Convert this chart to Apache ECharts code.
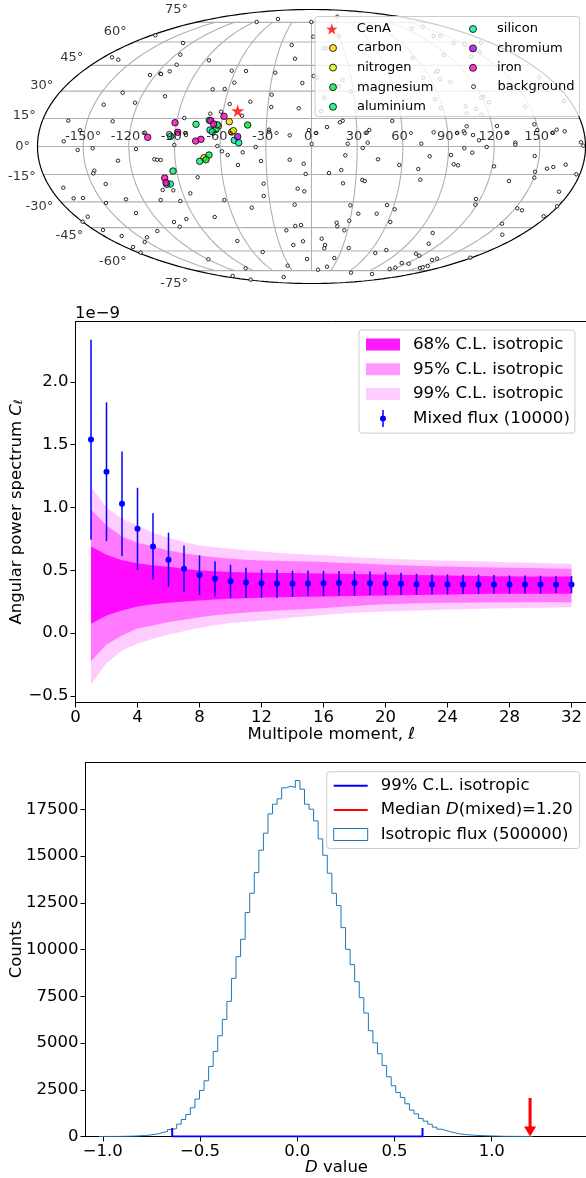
<!DOCTYPE html>
<html><head><meta charset="utf-8">
<style>html,body{margin:0;padding:0;background:#fff}#c{width:586px;height:1178px}</style>
<script src="https://cdn.jsdelivr.net/npm/echarts@6/dist/echarts.min.js"></script>
</head><body><div id="c"></div>
<script>
// ---------- SKY MAP (positions are Mollweide projected map units; half-axes 274 x 137) ----------
const lonTicks=[-150,-120,-90,-60,-30,0,30,60,90,120,150];
const latTicks=[-75,-60,-45,-30,-15,0,15,30,45,60,75];
const cenA=[[-73.8,35.8]];
const carbon=[[-82.2,24.8],[-93.2,20.5],[-107.5,-11.2],[-79.8,14.5]];
const nitrogen=[[-78.2,15.8]];
const magnesium=[[-63.8,21.5],[-95.5,17.2],[-102.5,-8.5],[-105.5,-13.2]];
const aluminium=[[-115.5,22.2],[-94.2,21.8],[-111.8,-14.8],[-138.5,-24.5]];
const silicon=[[-140.8,10.2],[-102.2,26.2],[-101.5,16.5],[-99.2,14.8],[-77.2,6.2],[-72.8,3.8],[-141.2,-37.5],[-144.8,-37.8]];
const chromium=[[-73.8,9.8]];
const iron=[[-163.8,9.2],[-136.5,23.8],[-133.8,14.2],[-115.8,5.5],[-110.5,7.2],[-100.8,25.8],[-97.8,22.5],[-87.5,30.2],[-146.8,-31.5],[-145.5,-36.2]];
const backgroundPts=[[-54.8,124.5],[-33.5,127.5],[-156.2,111.2],[-128.5,103.5],[-131.2,91.8],[-199.5,89.2],[-193.2,86.8],[-134.8,81.8],[-102.5,86.2],[-19.8,101.5],[-16.5,87.8],[-161.5,71.5],[-151.2,72.8],[-150.5,72.5],[-141.8,75.2],[-79.8,75.8],[-65.5,75.5],[-36.2,73.8],[-77.2,63.8],[-98.8,57.2],[-86.8,57.5],[-39.8,51.8],[-188.8,53.8],[-146.5,50.2],[-207.8,41.8],[-176.5,43.8],[-81.8,42.5],[-61.2,44.8],[-40.2,39.5],[-12.8,38.2],[-101.2,32.8],[-90.5,34.8],[-69.5,30.8],[-127.2,28.5],[-243.2,25.8],[-198.8,25.2],[-231.5,16.2],[-166.5,13.8],[-125.8,13.5],[-125.5,11.5],[-42.5,16.8],[-42.5,14.8],[-21.8,11.2],[-247.8,5.2],[-137.2,1.5],[-94.2,0.5],[-55.8,-0.5],[-218.8,-1.8],[-175.5,-2.5],[-233.8,-3.5],
[-89.5,-4.8],[-83.8,-8.5],[-68.8,-5.8],[-50.5,-14.5],[-73.5,-18.5],[-21.8,-13.2],[-193.5,-14.2],[-157.2,-12.8],[-154.5,-13.2],[-150.8,-13.5],[-217.2,-24.2],[-218.2,-26.8],[-113.8,-30.8],[-47.8,-37.2],[-205.8,-37.5],[-13.8,-42.2],[-248.2,-41.2],[-148.8,-43.5],[-138.2,-43.8],[-121.2,-46.8],[-47.8,-49.5],[-237.8,-51.8],[-228.5,-51.5],[-185.5,-52.8],[-150.8,-53.5],[-131.2,-54.5],[-87.2,-53.5],[-16.8,-58.2],[-205.5,-56.5],[-59.8,-61.2],[-175.5,-66.5],[-223.8,-70.2],[-96.8,-70.5],[-125.2,-72.5],[-137.5,-75.5],[-131.8,-80.2],[-228.8,-75.2],[-25.2,-83.8],[-16.2,-79.5],[-208.5,-83.5],[-154.2,-84.5],[-189.8,-89.5],[-164.5,-90.8],[-166.8,-95.5],[-74.2,-94.5],[-18.2,-98.5],[-178.5,-100.5],[-170.8,-106.2],[-48.8,-105.5],[-103.2,-112.8],[-23.8,-119.2],[-65.8,-121.8],[-78.8,-129.5],[-60.8,-133.2],[-27.8,-130.5],
[25.8,129.8],[-0.2,124.5],[1.8,109.8],[2.2,70.5],[-9.2,63.5],[27.2,110.2],[11.8,98.2],[14.5,98.2],[100.2,118.2],[111.2,119.8],[122.2,110.5],[128.8,110.5],[142.2,103.5],[153.2,102.2],[169.5,103.8],[159.8,89.8],[168.2,94.5],[132.2,91.5],[101.2,88.5],[124.2,74.5],[126.5,75.5],[128.5,67.5],[138.8,64.8],[111.8,68.5],[5.8,68.8],[31.2,66.5],[27.5,60.2],[39.2,54.8],[12.8,48.8],[9.5,35.2],[227.8,69.2],[228.5,61.5],[252.5,45.5],[213.8,39.8],[177.5,44.2],[171.8,49.8],[169.8,48.8],[123.5,47.2],[129.2,38.5],[164.5,37.5],[154.2,40.2],[155.2,33.2],[169.8,31.8],
[31.2,25.8],[28.5,24.2],[15.5,19.5],[80.8,25.5],[-2.5,16.5],[4.8,13.5],[55.2,13.8],[57.8,16.5],[109.8,2.8],[122.2,14.2],[145.8,13.5],[152.2,15.2],[155.2,20.2],[153.2,13.2],[161.5,11.5],[185.5,20.5],[167.5,6.2],[195.8,13.8],[222.8,22.2],[225.8,16.5],[241.5,13.8],[245.2,16.8],[253.2,15.2],[269.5,4.2],[271.8,0.8],[0.2,2.5],[36.2,2.8],[56.2,3.8],[152.8,-1.8],[175.2,-0.5],[203.8,3.8],[203.8,1.8],[51.2,-1.5],
[160.8,-6.2],[223.2,-9.5],[33.8,-8.8],[66.5,-12.8],[-7.8,-17.2],[118.2,-9.8],[139.5,-8.5],[87.8,-18.5],[29.8,-23.5],[17.5,-26.5],[-5.8,-27.5],[106.8,-22.5],[142.2,-17.8],[146.5,-18.8],[182.5,-19.8],[235.5,-22.2],[241.8,-20.5],[254.2,-18.2],[264.8,-27.8],[223.5,-25.2],[222.8,-31.2],[108.8,-33.2],[50.8,-33.5],[53.2,-34.5],[197.5,-34.5],[31.5,-36.8],[-7.2,-44.8],[247.5,-45.2],[164.5,-52.5],[38.8,-58.8],[75.5,-58.5],[163.8,-58.2],[83.2,-62.8],[205.8,-61.8],[210.5,-63.8],[245.5,-59.8],[46.8,-67.2],[65.2,-67.2],[232.2,-69.8],[37.8,-74.2],[78.8,-75.5],[25.2,-76.2],[25.8,-79.8],[-10.5,-78.5],[32.8,-83.8],[190.5,-77.2],[121.2,-86.5],[190.8,-88.2],[10.2,-92.2],[-8.5,-94.8],[117.2,-97.2],[13.5,-98.5],[12.8,-101.8],[37.2,-101.5],[74.8,-103.5],[63.8,-106.5],[104.5,-107.2],[107.8,-109.2],[-4.5,-112.5],[22.8,-111.5],[120.5,-113.5],[125.5,-112.2],[158.8,-111.2],[90.2,-116.5],[97.2,-117.2],[83.8,-121.2],[78.2,-122.5],[108.5,-121.5],[111.2,-120.8],[116.2,-119.5],[15.5,-120.2],[6.5,-123.2],[39.5,-126.2],[60.5,-127.5]];

// ---------- ANGULAR POWER SPECTRUM (units of 1e-9) ----------
const ells=[1,2,3,4,5,6,7,8,9,10,11,12,13,14,15,16,17,18,19,20,21,22,23,24,25,26,27,28,29,30,31,32];
const cl=[1.542,1.285,1.03,.831,.69,.584,.512,.462,.433,.414,.404,.398,.395,.393,.396,.398,.4,.4,.398,.396,.393,.39,.388,.388,.388,.388,.388,.388,.388,.388,.388,.388];
const clHi=[2.336,1.837,1.447,1.157,.955,.8,.698,.619,.573,.545,.52,.507,.505,.497,.499,.496,.494,.491,.491,.486,.481,.473,.467,.467,.465,.465,.462,.459,.459,.457,.454,.454];
const clLo=[.744,.733,.613,.505,.427,.372,.327,.303,.292,.282,.282,.282,.282,.29,.295,.297,.3,.3,.303,.303,.305,.305,.308,.308,.311,.311,.313,.313,.316,.316,.319,.319];
const up68=[.69,.624,.58,.557,.539,.528,.512,.499,.492,.486,.483,.481,.479,.478,.477,.475,.473,.471,.469,.467,.465,.463,.461,.459,.457,.455,.454,.453,.452,.452,.451,.451];
const lo68=[.075,.14,.18,.212,.231,.242,.252,.26,.267,.273,.278,.282,.285,.287,.289,.291,.293,.295,.297,.3,.302,.304,.306,.308,.31,.312,.313,.313,.313,.313,.313,.313];
const up95=[.985,.857,.77,.72,.69,.659,.637,.619,.605,.592,.585,.579,.576,.573,.57,.566,.561,.556,.55,.544,.54,.536,.533,.53,.527,.525,.522,.52,.518,.516,.514,.512];
const lo95=[-.223,-.09,-.018,.037,.06,.088,.106,.127,.142,.154,.164,.172,.18,.186,.192,.2,.208,.216,.224,.23,.234,.238,.24,.242,.243,.244,.245,.245,.246,.246,.247,.247];
const up99=[1.168,1,.913,.857,.8,.76,.725,.698,.684,.672,.66,.65,.64,.632,.626,.62,.612,.605,.598,.592,.588,.584,.58,.577,.574,.572,.568,.565,.562,.558,.555,.552];
const lo99=[-.408,-.239,-.138,-.085,-.044,-.01,.016,.043,.062,.08,.09,.1,.112,.125,.135,.145,.155,.163,.168,.172,.176,.18,.184,.188,.191,.194,.197,.199,.201,.203,.205,.207];
const ellTicks=[0,4,8,12,16,20,24,28,32];
const clTicks=[-0.5,0,0.5,1,1.5,2];

// ---------- D HISTOGRAM ----------
const histStart=-1.019, histBin=0.02347;
const histCounts=[1,2,3,5,8,12,18,25,37,55,72,108,143,215,268,375,429,660,910,1178,1535,1998,2462,2980,3747,4550,5388,6262,7226,8457,9616,10545,11973,13007,14113,15309,16219,17253,17771,18056,18645,18734,18663,19037,18573,17771,17503,16879,15915,15041,14078,13007,12347,11170,10010,9188,8278,7422,6601,5656,5013,4425,3800,3194,2712,2355,2088,1749,1410,1214,963,821,660,500,393,322,250,197,143,108,90,72,55,50,37,30,25,15,10,9,8,5,4,3,2];
const clLine=[[-0.643,450],[-0.643,0],[0.644,0],[0.644,450]];
const medianArrow=[[1.197,2060,0]];
const dTicks=[-1,-0.5,0,0.5,1];
const countTicks=[0,2500,5000,7500,10000,12500,15000,17500];

// ---------- helpers ----------
const FONT='DejaVu Sans', BIG=16.5, SMALL=13;
function moll(lonDeg,latDeg){
  const phi=latDeg*Math.PI/180; let t=phi;
  for(let i=0;i<40;i++){ t-=(2*t+Math.sin(2*t)-Math.PI*Math.sin(phi))/(2+2*Math.cos(2*t)); }
  return [274*(lonDeg/180)*Math.cos(t),137*Math.sin(t)];
}
const fmt1=v=>v.toFixed(1).replace('-','\u2212');
const gridLine={type:'line',xAxisIndex:0,yAxisIndex:0,symbol:'none',silent:true,clip:false,z:1,lineStyle:{color:'#b0b0b0',width:1.1}};
const series=[];
latTicks.forEach(lat=>series.push({...gridLine,data:[moll(-180,lat),moll(180,lat)]}));
lonTicks.forEach(lon=>{
  const d=[]; for(let a=-75;a<=75;a+=2.5) d.push(moll(lon,a));
  series.push({...gridLine,data:d});
});
const outline=[]; for(let i=0;i<=360;i+=1){const a=i*Math.PI/180;outline.push([274*Math.cos(a),137*Math.sin(a)]);}
series.push({...gridLine,z:1.5,data:outline,lineStyle:{color:'#000',width:1.2}});

series.push({type:'scatter',name:'background',xAxisIndex:0,yAxisIndex:0,data:backgroundPts,symbolSize:3.5,itemStyle:{color:'#fff',borderColor:'#000',borderWidth:1},z:2});
const STAR='path://M0,-1L0.2245,-0.309 0.951,-0.309 0.363,0.118 0.588,0.809 0,0.382 -0.588,0.809 -0.363,0.118 -0.951,-0.309 -0.2245,-0.309Z';
[['carbon',carbon,'#ffd400'],['nitrogen',nitrogen,'#dff000'],['magnesium',magnesium,'#00e63c'],['aluminium',aluminium,'#00f06e'],['silicon',silicon,'#00eba0'],['chromium',chromium,'#b400e6'],['iron',iron,'#ff00c0']]
 .forEach(([n,d,c])=>series.push({type:'scatter',name:n,xAxisIndex:0,yAxisIndex:0,data:d,symbolSize:6.5,itemStyle:{color:c,borderColor:'#000',borderWidth:1},z:3}));
series.push({type:'scatter',name:'CenA',xAxisIndex:0,yAxisIndex:0,data:cenA,symbol:STAR,symbolSize:13,itemStyle:{color:'#ff0000'},z:4});
// map tick labels
series.push({type:'scatter',xAxisIndex:0,yAxisIndex:0,symbolSize:0,silent:true,z:5,
  data:lonTicks.map(l=>({value:[moll(l,0)[0],9.5],name:l+'\u00b0'})),
  label:{show:true,position:'inside',formatter:'{b}',color:'#000',fontSize:SMALL,fontFamily:FONT}});
series.push({type:'scatter',xAxisIndex:0,yAxisIndex:0,symbolSize:0,silent:true,z:5,
  data:latTicks.map(l=>({value:moll(-180,l),name:l+'\u00b0',label:{offset:[0,-l*0.17]}})),
  label:{show:true,position:'left',distance:7.5,formatter:'{b}',color:'#000',fontSize:SMALL,fontFamily:FONT}});

// bands
function band(name,lo,up,color){
  series.push({type:'custom',name,xAxisIndex:1,yAxisIndex:1,silent:true,itemStyle:{color},clip:false,z:2,
    data:ells.map((l,i)=>[l,lo[i],up[i]]),encode:{x:0,y:[1,2]},
    renderItem(p,api){
      if(p.dataIndex!==0) return null;
      const pts=ells.map((l,i)=>api.coord([l,up[i]])).concat(ells.map((l,i)=>api.coord([l,lo[i]])).reverse());
      return {type:'polygon',shape:{points:pts},style:{fill:color}};
    }});
}
band('99% C.L. isotropic',lo99,up99,'rgba(255,0,255,0.2)');
band('95% C.L. isotropic',lo95,up95,'rgba(255,0,255,0.4)');
band('68% C.L. isotropic',lo68,up68,'rgba(255,0,255,0.9)');
series.push({type:'custom',name:'Mixed flux (10000)',xAxisIndex:1,yAxisIndex:1,silent:true,itemStyle:{color:'#0000ff'},clip:false,z:3,
  data:ells.map((l,i)=>[l,cl[i],clLo[i],clHi[i]]),encode:{x:0,y:[1,2,3]},
  renderItem(p,api){
    const c=api.coord([api.value(0),api.value(1)]),a=api.coord([api.value(0),api.value(2)]),b=api.coord([api.value(0),api.value(3)]);
    return {type:'group',children:[
      {type:'line',shape:{x1:a[0],y1:a[1],x2:b[0],y2:b[1]},style:{stroke:'#0000ff',lineWidth:1.5}},
      {type:'circle',shape:{cx:c[0],cy:c[1],r:3},style:{fill:'#0000ff'}}]};
  }});

// histogram
const stepData=[[histStart,0]];
histCounts.forEach((c,i)=>stepData.push([histStart+i*histBin,c]));
stepData.push([histStart+histCounts.length*histBin,0]);
series.push({type:'line',name:'Isotropic flux (500000)',xAxisIndex:2,yAxisIndex:2,step:'end',symbol:'none',silent:true,data:stepData,lineStyle:{color:'#1f77b4',width:1},itemStyle:{color:'#1f77b4'},z:2});
series.push({type:'line',name:'99% C.L. isotropic ',xAxisIndex:2,yAxisIndex:2,symbol:'none',silent:true,data:clLine,lineStyle:{color:'#0000ff',width:2},itemStyle:{color:'#0000ff'},z:3});
series.push({type:'custom',name:'Median D(mixed)=1.20',xAxisIndex:2,yAxisIndex:2,silent:true,itemStyle:{color:'#ff0000'},clip:false,z:4,
  data:medianArrow,encode:{x:0,y:[1,2]},
  renderItem(p,api){
    const t=api.coord([api.value(0),api.value(1)]),b=api.coord([api.value(0),api.value(2)]);
    return {type:'group',children:[
      {type:'line',shape:{x1:t[0],y1:t[1],x2:b[0],y2:b[1]-4},style:{stroke:'#ff0000',lineWidth:3}},
      {type:'polygon',shape:{points:[[b[0]-6,b[1]-10],[b[0]+6,b[1]-10],[b[0],b[1]]]},style:{fill:'#ff0000'}}]};
  }});

const legendBase={orient:'vertical',selectedMode:false,padding:0,z:20,textStyle:{fontFamily:FONT,fontSize:SMALL,color:'#000',lineHeight:16,padding:[0,0,0,12]},itemWidth:14,
  itemStyle:{borderColor:'inherit',borderWidth:1}};
const boxLegend={orient:'vertical',selectedMode:false,z:20,backgroundColor:'rgba(255,255,255,0.8)',borderColor:'#ccc',borderWidth:1,borderRadius:3,
  itemWidth:34,itemHeight:17,itemGap:7.4,textStyle:{fontFamily:FONT,fontSize:BIG,color:'#000',lineHeight:17,padding:[0,0,0,8]}};
const RECT='path://M0 0H34V12H0z', THIN='path://M0 0H34V2H0z';
const MIXED='path://M-0.75,-8.5h1.5v17h-1.5z M-3,0a3,3 0 1,1 6,0a3,3 0 1,1 -6,0z';

const tickOpts={show:true,length:5,lineStyle:{color:'#000',width:1}};
const option={
  animation:false,backgroundColor:'#fff',textStyle:{fontFamily:FONT},
  title:[{text:'1e\u22129',left:75,top:305,padding:0,textStyle:{fontFamily:FONT,fontSize:BIG,fontWeight:'normal',color:'#000'}}],
  graphic:{elements:[{type:'rect',z:10,shape:{x:315,y:16.5,width:264.5,height:100,r:3},style:{fill:'rgba(255,255,255,0.8)',stroke:'#ccc',lineWidth:1}}]},
  legend:[
    {...legendBase,left:326,top:21,itemHeight:11,textStyle:{...legendBase.textStyle,padding:[0,0,0,13]},data:[{name:'CenA',icon:STAR,itemStyle:{borderWidth:0}}]},
    {...legendBase,left:329,top:40,itemHeight:7,itemGap:3.6,icon:'circle',data:['carbon','nitrogen','magnesium','aluminium']},
    {...legendBase,left:469,top:21,itemHeight:7,itemGap:3.4,icon:'circle',data:['silicon','chromium','iron']},
    {...legendBase,left:471,top:78.7,itemHeight:4,icon:'circle',data:['background'],itemStyle:{borderColor:'#000',borderWidth:1}},
    {...boxLegend,left:359,top:330,padding:[6,5,6,7],itemGap:7.7,textStyle:{...boxLegend.textStyle,fontSize:16.7},data:[
      {name:'68% C.L. isotropic',icon:RECT},{name:'95% C.L. isotropic',icon:RECT},{name:'99% C.L. isotropic',icon:RECT},{name:'Mixed flux (10000)',icon:MIXED}]},
    {...boxLegend,left:326.7,top:771.7,padding:[5.5,7,5.5,6.5],
      formatter:n=>n==='Median D(mixed)=1.20'?'Median {i|D}(mixed)=1.20':n,
      textStyle:{...boxLegend.textStyle,rich:{i:{fontStyle:'italic',fontFamily:FONT,fontSize:BIG,color:'#000'}}},
      data:[{name:'99% C.L. isotropic ',icon:THIN},{name:'Median D(mixed)=1.20',icon:THIN},
        {name:'Isotropic flux (500000)',icon:RECT,itemStyle:{color:'#fff',borderColor:'#1f77b4',borderWidth:1}}]}
  ],
  grid:[
    {left:37.5,top:9.5,width:548,height:274,show:false,outerBoundsMode:'none'},
    {left:75.5,top:321.5,width:511.5,height:381,show:true,backgroundColor:'transparent',borderColor:'#000',borderWidth:1,outerBoundsMode:'none'},
    {left:85.5,top:762.5,width:502,height:374,show:true,backgroundColor:'transparent',borderColor:'#000',borderWidth:1,outerBoundsMode:'none'}
  ],
  xAxis:[
    {gridIndex:0,type:'value',min:-274,max:274,show:false},
    {gridIndex:1,type:'value',min:0,max:33,splitLine:{show:false},
      axisLine:{onZero:false,lineStyle:{color:'#000'}},axisTick:{...tickOpts,customValues:ellTicks},
      axisLabel:{customValues:ellTicks,color:'#000',fontSize:BIG,fontFamily:FONT,margin:7,formatter:v=>String(v)},
      name:'{n|Multipole moment, }{i|\u2113}',nameLocation:'middle',nameGap:24,nameMoveOverlap:false,
      nameTextStyle:{rich:{n:{fontSize:BIG,fontFamily:FONT,color:'#000'},i:{fontSize:BIG,fontStyle:'italic',fontFamily:FONT,color:'#000'}}}},
    {gridIndex:2,type:'value',min:-1.0887,max:1.4923,splitLine:{show:false},
      axisLine:{onZero:false,lineStyle:{color:'#000'}},axisTick:{...tickOpts,customValues:dTicks},
      axisLabel:{customValues:dTicks,color:'#000',fontSize:BIG,fontFamily:FONT,margin:7,formatter:fmt1},
      name:'{i|D}{n| value}',nameLocation:'middle',nameGap:23,nameMoveOverlap:false,
      nameTextStyle:{rich:{n:{fontSize:BIG,fontFamily:FONT,color:'#000'},i:{fontSize:BIG,fontStyle:'italic',fontFamily:FONT,color:'#000'}}}}
  ],
  yAxis:[
    {gridIndex:0,type:'value',min:-137,max:137,show:false},
    {gridIndex:1,type:'value',min:-0.552,max:2.481,splitLine:{show:false},
      axisLine:{show:true,onZero:false,lineStyle:{color:'#000'}},axisTick:{...tickOpts,customValues:clTicks},
      axisLabel:{customValues:clTicks,color:'#000',fontSize:BIG,fontFamily:FONT,margin:7,formatter:fmt1},
      name:'{n|Angular power spectrum }{c|C}{s|\u2113}',nameLocation:'middle',nameGap:50,nameRotate:90,nameMoveOverlap:false,
      nameTextStyle:{rich:{n:{fontSize:BIG,fontFamily:FONT,color:'#000'},c:{fontSize:BIG,fontStyle:'italic',fontFamily:FONT,color:'#000'},s:{fontSize:11.5,fontStyle:'italic',fontFamily:FONT,color:'#000',verticalAlign:'bottom'}}}},
    {gridIndex:2,type:'value',min:0,max:20000,splitLine:{show:false},
      axisLine:{show:true,onZero:false,lineStyle:{color:'#000'}},axisTick:{...tickOpts,customValues:countTicks},
      axisLabel:{customValues:countTicks,color:'#000',fontSize:BIG,fontFamily:FONT,margin:7,formatter:v=>String(v)},
      name:'Counts',nameLocation:'middle',nameGap:60,nameRotate:90,nameMoveOverlap:false,nameTextStyle:{fontSize:BIG,fontFamily:FONT,color:'#000'}}
  ],
  series
};
const chart=echarts.init(document.getElementById('c'),null,{renderer:'canvas'});
chart.setOption(option);
</script></body></html>
